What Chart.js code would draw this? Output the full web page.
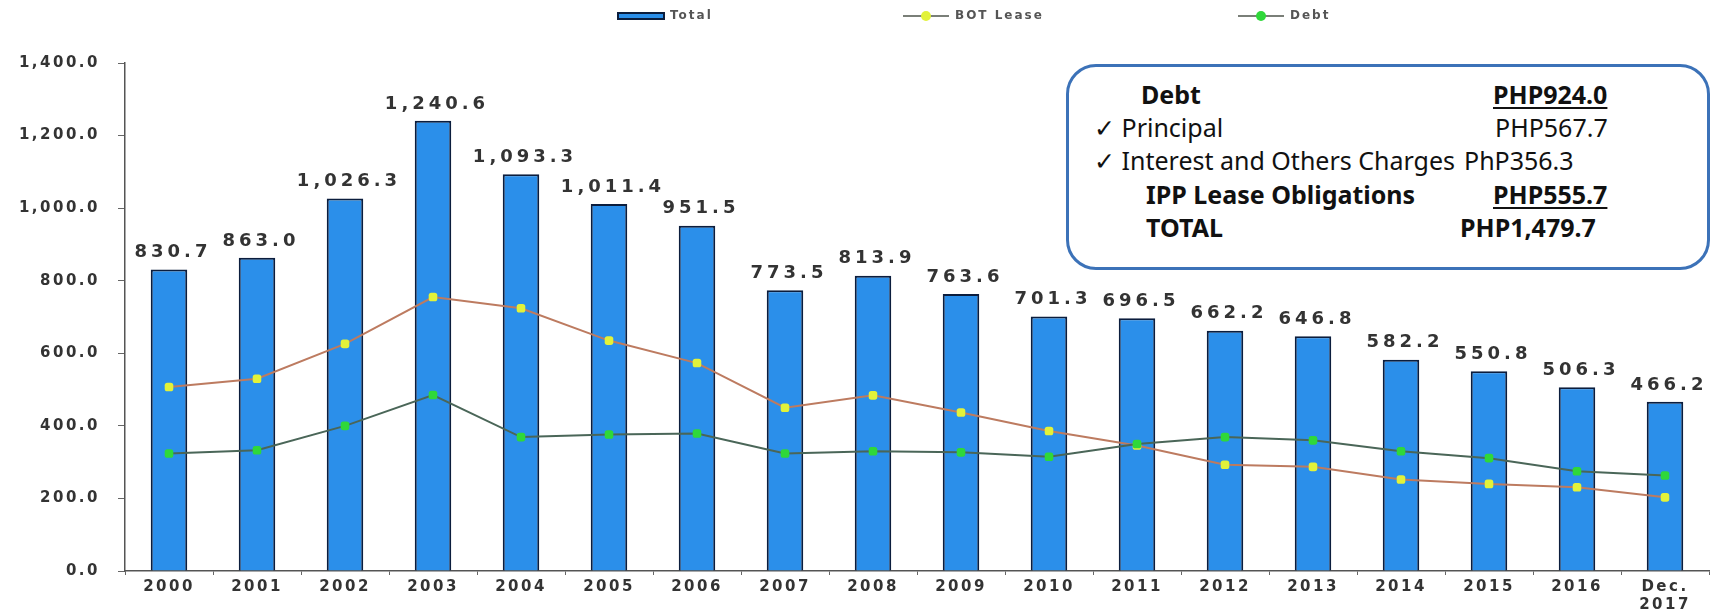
<!DOCTYPE html>
<html>
<head>
<meta charset="utf-8">
<script src="https://cdn.jsdelivr.net/npm/chart.js@4.4.1/dist/chart.umd.min.js"></script>
<style>
  html, body { margin: 0; padding: 0; background: #fff; }
  #wrap { position: relative; width: 1717px; height: 612px; }
  #box {
    position: absolute; left: 1066px; top: 64px; width: 638px; height: 200px;
    border: 3px solid #3c72b8; border-radius: 30px; background: #fff;
    font-family: 'Noto Sans', sans-serif; font-size: 25px; color: #111;
  }
  #box div { position: absolute; white-space: nowrap; line-height: 30px; }
  #box .b { font-weight: bold; }
  #box .u { text-decoration: underline; text-decoration-thickness: 2px; text-underline-offset: 3px; }
</style>
</head>
<body>
<div id="wrap">
  <canvas id="c" width="1717" height="612"></canvas>
  <div id="box">
    <div class="b" style="left:72px;top:12px">Debt</div>
    <div class="b u" style="left:424px;top:12px">PHP924.0</div>
    <div style="left:25px;top:45px">✓ Principal</div>
    <div style="left:426px;top:45px">PHP567.7</div>
    <div style="left:25px;top:78px">✓ Interest and Others Charges</div>
    <div style="left:395px;top:78px">PhP356.3</div>
    <div class="b" style="left:77px;top:112px">IPP Lease Obligations</div>
    <div class="b u" style="left:424px;top:112px">PHP555.7</div>
    <div class="b" style="left:77px;top:145px">TOTAL</div>
    <div class="b" style="left:391px;top:145px">PHP1,479.7</div>
  </div>
</div>
<script>
// values (PHP billions)
const years = ['2000', '2001', '2002', '2003', '2004', '2005', '2006', '2007', '2008',
  '2009', '2010', '2011', '2012', '2013', '2014', '2015', '2016', ['Dec.', '2017']];
const totalVals = [830.7, 863.0, 1026.3, 1240.6, 1093.3, 1011.4, 951.5, 773.5, 813.9,
  763.6, 701.3, 696.5, 662.2, 646.8, 582.2, 550.8, 506.3, 466.2];
const botLease = [507, 530, 626, 755, 724, 635, 573, 450, 484,
  437, 386, 346, 293, 287, 252, 240, 231, 203];
const debtVals = [324, 333, 400, 485, 369, 376, 379, 324, 330,
  327, 315, 350, 369, 360, 330, 311, 275, 263];
const yTicks = [0, 200, 400, 600, 800, 1000, 1200, 1400];

const fmt = v => v.toLocaleString('en-US', { minimumFractionDigits: 1, maximumFractionDigits: 1 });
const TXT = '#333';

// the axis fonts in the original are widely tracked
const tracking = {
  id: 'tracking',
  beforeDraw(chart) { chart.ctx.letterSpacing = '2.5px'; }
};

// value labels above the bars
const barLabels = {
  id: 'barLabels',
  afterDatasetsDraw(chart) {
    const ctx = chart.ctx;
    const meta = chart.getDatasetMeta(0);
    ctx.save();
    ctx.font = "bold 18px 'DejaVu Sans'";
    ctx.letterSpacing = '4px';
    ctx.fillStyle = TXT;
    ctx.textAlign = 'center';
    ctx.textBaseline = 'bottom';
    meta.data.forEach((bar, i) => {
      ctx.fillText(fmt(totalVals[i]), bar.x + 4, bar.y - 8);
    });
    ctx.restore();
  }
};

// legend strip along the top
const legendX = [618, 903, 1238];
const topLegend = {
  id: 'topLegend',
  afterDraw(chart) {
    const ctx = chart.ctx;
    const y = 16, icon = 46;
    ctx.save();
    ctx.font = "bold 12px 'DejaVu Sans'";
    ctx.letterSpacing = '2px';
    chart.data.datasets.forEach((d, i) => {
      const x = legendX[i];
      if (d.type === 'bar') {
        ctx.fillStyle = d.backgroundColor;
        ctx.strokeStyle = d.borderColor;
        ctx.lineWidth = 2;
        ctx.fillRect(x, y - 3, icon, 6);
        ctx.strokeRect(x, y - 3, icon, 6);
      } else {
        ctx.strokeStyle = '#7a7f78';
        ctx.lineWidth = 2;
        ctx.beginPath(); ctx.moveTo(x, y); ctx.lineTo(x + icon, y); ctx.stroke();
        ctx.fillStyle = d.pointBackgroundColor;
        ctx.beginPath(); ctx.arc(x + icon / 2, y, 5, 0, Math.PI * 2); ctx.fill();
      }
      ctx.fillStyle = '#555';
      ctx.textBaseline = 'middle';
      ctx.fillText(d.label, x + icon + 6, y);
    });
    ctx.restore();
  }
};

new Chart(document.getElementById('c'), {
  data: {
    labels: years,
    datasets: [
      {
        type: 'bar', label: 'Total', data: totalVals, order: 3,
        backgroundColor: '#2b8fea', borderColor: '#0b1d3d', borderWidth: 2,
        barPercentage: 0.415, categoryPercentage: 1
      },
      {
        type: 'line', label: 'BOT Lease', data: botLease, order: 2,
        borderColor: '#bd7b60', borderWidth: 2, tension: 0,
        pointRadius: 5, pointStyle: 'rectRounded', pointBorderWidth: 0,
        pointBackgroundColor: '#e2f23a'
      },
      {
        type: 'line', label: 'Debt', data: debtVals, order: 1,
        borderColor: '#4a6658', borderWidth: 2, tension: 0,
        pointRadius: 5, pointStyle: 'rectRounded', pointBorderWidth: 0,
        pointBackgroundColor: '#2fd83a'
      }
    ]
  },
  options: {
    responsive: false,
    animation: false,
    layout: { padding: { top: 63, right: 8, left: 0, bottom: 0 } },
    plugins: { legend: { display: false }, tooltip: { enabled: false } },
    scales: {
      x: {
        afterFit: s => { s.height = 41; },
        grid: { display: true, drawOnChartArea: false, tickLength: 4, color: '#666' },
        border: { display: true, color: '#555', width: 1.5 },
        ticks: { color: TXT, font: { family: 'DejaVu Sans', size: 15, weight: 'bold' }, padding: 3, maxRotation: 0, autoSkip: false }
      },
      y: {
        min: 0, max: 1400,
        afterFit: s => { s.width = 125; },
        afterBuildTicks: s => { s.ticks = yTicks.map(v => ({ value: v })); },
        grid: { display: true, drawOnChartArea: false, tickLength: 7, color: '#666' },
        border: { display: true, color: '#555', width: 1.5 },
        ticks: { color: TXT, font: { family: 'DejaVu Sans', size: 15, weight: 'bold' }, padding: 18, callback: v => fmt(v) }
      }
    }
  },
  plugins: [tracking, barLabels, topLegend]
});
</script>
</body>
</html>
